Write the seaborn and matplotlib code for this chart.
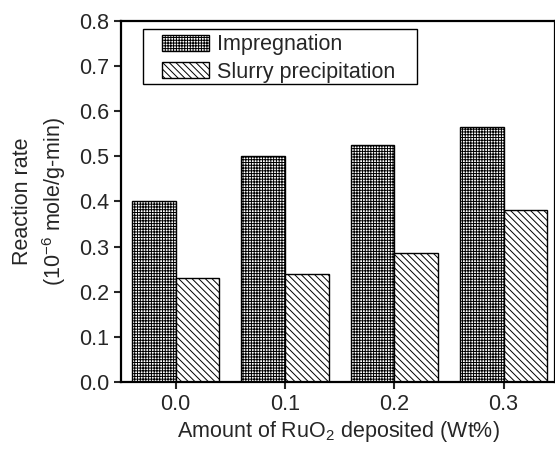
import pandas as pd
import numpy as np
import matplotlib
matplotlib.use("Agg")
import matplotlib.pyplot as plt
import matplotlib.patches as mpatches
import seaborn as sns

# values
amounts = ["0.0", "0.1", "0.2", "0.3"]
impregnation = [0.40, 0.50, 0.525, 0.565]
slurry = [0.23, 0.24, 0.285, 0.38]
methods = ["Impregnation", "Slurry precipitation"]
hatches = ["++++++", "\\\\\\\\\\"]

df = pd.DataFrame({
    "amount": amounts * 2,
    "rate": impregnation + slurry,
    "method": [methods[0]] * 4 + [methods[1]] * 4,
})

sns.set_style("ticks")
plt.rcParams['font.family'] = ['Liberation Sans', 'DejaVu Sans']
plt.rcParams['mathtext.fontset'] = 'custom'
plt.rcParams['mathtext.rm'] = 'Liberation Sans'
plt.rcParams['hatch.linewidth'] = 0.7

fs = 15.5

fig = plt.figure(figsize=(5.55, 4.49), dpi=100)
ax = fig.add_axes([0.218, 0.149, 0.782, 0.805])

sns.barplot(data=df, x="amount", y="rate", hue="method", hue_order=methods,
            order=amounts, palette=["white", "white"], edgecolor="black",
            linewidth=1.0, legend=False, ax=ax)

# hatch each group of bars
for cont, h in zip(ax.containers, hatches):
    for p in cont.patches:
        p.set_hatch(h)
        p.set_facecolor("white")
        p.set_edgecolor("black")

ax.set_xlim(-0.5, 3.47)
ax.set_ylim(0, 0.8)
ax.set_yticks(np.arange(0, 0.81, 0.1))
ax.set_yticklabels([f"{v:.1f}" for v in np.arange(0, 0.81, 0.1)])
ax.tick_params(labelsize=fs, width=1.5, length=5, direction="out")

for s in ax.spines.values():
    s.set_linewidth(1.6)
    s.set_color("black")

ax.set_xlabel("Amount of RuO$_2$ deposited (Wt%)", fontsize=fs, labelpad=3)
ax.set_ylabel("Reaction rate\n(10$^{-6}$ mole/g-min)", fontsize=fs,
              labelpad=8, linespacing=1.35)

# legend box is wider than the entries, so draw the frame separately
frame = mpatches.Rectangle((0.051, 0.824), 0.631, 0.152, transform=ax.transAxes,
                           facecolor="white", edgecolor="black", lw=1.0, zorder=4)
ax.add_patch(frame)
handles = [mpatches.Patch(facecolor="white", edgecolor="black", hatch=h, label=m)
           for m, h in zip(methods, hatches)]
leg = ax.legend(handles=handles, loc="upper left", bbox_to_anchor=(0.094, 0.962),
                fontsize=fs, frameon=False,
                handlelength=2.2, handleheight=0.75, handletextpad=0.37,
                labelspacing=0.3, borderpad=0.0, borderaxespad=0.0)
leg.set_zorder(5)

fig.savefig("out.png", dpi=100)
